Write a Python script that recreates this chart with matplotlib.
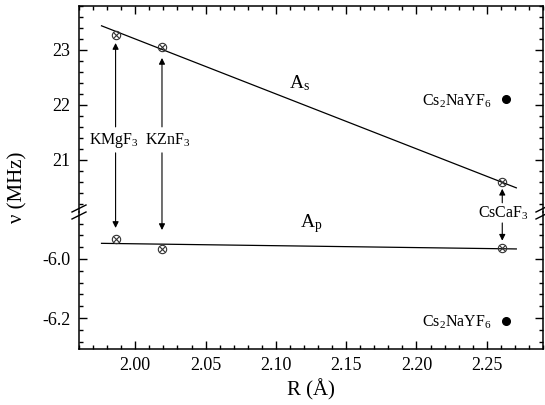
import matplotlib
matplotlib.use('Agg')
import matplotlib.pyplot as plt
from matplotlib.patches import ConnectionPatch
from matplotlib.ticker import MultipleLocator, FormatStrFormatter

plt.rcParams['font.family'] = 'Liberation Serif'
plt.rcParams['mathtext.fontset'] = 'custom'
plt.rcParams['mathtext.rm'] = 'Liberation Serif'
plt.rcParams['mathtext.it'] = 'Liberation Serif:italic'
plt.rcParams['axes.unicode_minus'] = False

# data
crystals = ['KMgF$_3$', 'KZnF$_3$', 'CsCaF$_3$']
R = [1.986, 2.019, 2.261]
A_s = [23.28, 23.06, 20.59]
A_p = [-5.932, -5.966, -5.962]

# Cs2NaYF6 reference values
R_ref = [2.2635]
A_s_ref = [22.10]
A_p_ref = [-6.21]

# linear fits
fit_R = [1.976, 2.271]
fit_As = [23.44, 20.49]
fit_Ap = [-5.947, -5.966]

fig = plt.figure(figsize=(5.45, 4.05), dpi=100)
ax_top = fig.add_axes([0.1450, 0.4765, 0.8514, 0.5086])
ax_bot = fig.add_axes([0.1450, 0.1395, 0.8514, 0.3370], sharex=ax_top)

ax_top.set_ylim(20.05, 23.8)
ax_bot.set_ylim(-6.303, -5.841)
ax_top.set_xlim(1.960, 2.290)

for ax in (ax_top, ax_bot):
    for s in ax.spines.values():
        s.set_linewidth(1.1)
    ax.tick_params(which='both', direction='in', labelsize=13, pad=6, width=1)
    ax.tick_params(which='major', length=6)
    ax.tick_params(which='minor', length=3)
    ax.patch.set_alpha(0)

ax_top.spines['bottom'].set_visible(False)
ax_bot.spines['top'].set_visible(False)
ax_top.tick_params(which='both', bottom=False, labelbottom=False, top=True,
                   right=True)
ax_bot.tick_params(which='both', top=False, right=True)

ax_top.yaxis.set_major_locator(MultipleLocator(1))
ax_top.yaxis.set_minor_locator(MultipleLocator(0.2))
ax_bot.yaxis.set_major_locator(MultipleLocator(0.2))
ax_bot.yaxis.set_minor_locator(MultipleLocator(0.04))
ax_bot.yaxis.set_major_formatter(FormatStrFormatter('%.1f'))
ax_bot.xaxis.set_major_locator(MultipleLocator(0.05))
ax_bot.xaxis.set_minor_locator(MultipleLocator(0.01))
ax_bot.xaxis.set_major_formatter(FormatStrFormatter('%.2f'))

# fit lines
ax_top.plot(fit_R, fit_As, color='black', lw=0.9)
ax_bot.plot(fit_R, fit_Ap, color='black', lw=0.9)

# data points (circle with cross)
for ax, vals in ((ax_top, A_s), (ax_bot, A_p)):
    ax.plot(R, vals, ls='none', marker='o', ms=6, mfc='none', mec='#333333', mew=0.8)
    ax.plot(R, vals, ls='none', marker='x', ms=4, mec='#333333', mew=0.8)

ax_top.plot(R_ref, A_s_ref, 'o', color='black', ms=5.5)
ax_bot.plot(R_ref, A_p_ref, 'o', color='black', ms=5.5)

# text labels
fs = 11.5
ax_top.text(1.9845, 21.35, crystals[0], fontsize=fs, ha='center', va='center')
ax_top.text(2.023, 21.35, crystals[1], fontsize=fs, ha='center', va='center')
ax_bot.text(2.2618, -5.847, crystals[2], fontsize=fs, ha='center', va='center',
            clip_on=False)
ax_top.text(2.2533, 22.07, 'Cs$_2$NaYF$_6$', fontsize=fs, ha='right', va='center')
ax_bot.text(2.2533, -6.213, 'Cs$_2$NaYF$_6$', fontsize=fs, ha='right', va='center')
ax_top.text(2.1165, 22.40, 'A$_\\mathrm{s}$', fontsize=14, ha='center', va='center')
ax_bot.text(2.1248, -5.881, 'A$_\\mathrm{p}$', fontsize=14, ha='center', va='center')

# arrows from labels to points
arrows = [
    (1.986, ax_top, 21.60, ax_top, 23.127),
    (1.986, ax_top, 21.127, ax_bot, -5.895),
    (2.019, ax_top, 21.60, ax_top, 22.855),
    (2.019, ax_top, 21.127, ax_bot, -5.902),
    (2.261, ax_top, 20.218, ax_top, 20.473),
    (2.261, ax_bot, -5.878, ax_bot, -5.938),
]
for x, axa, ya, axb, yb in arrows:
    con = ConnectionPatch(xyA=(x, ya), coordsA=axa.transData,
                          xyB=(x, yb), coordsB=axb.transData,
                          arrowstyle='-|>', mutation_scale=9, lw=0.8,
                          color='black', shrinkA=0, shrinkB=0)
    fig.add_artist(con)

# axis break marks
ybreak = 1 - 212 / 405
for xb in (79 / 545, 543 / 545):
    for dy in (-3.5, 3.5):
        x0, x1 = xb - 7 / 545, xb + 7 / 545
        y0, y1 = ybreak + (dy - 3.5) / 405, ybreak + (dy + 3.5) / 405
        fig.add_artist(plt.Line2D([x0, x1], [y0, y1], color='black', lw=1,
                                  transform=fig.transFigure))

ax_bot.set_xlabel('R (Å)', fontsize=15, labelpad=4)
fig.text(0.033, 0.538, 'ν (MHz)', rotation=90, fontsize=15, ha='center', va='center')

fig.savefig('out.png', dpi=100)
